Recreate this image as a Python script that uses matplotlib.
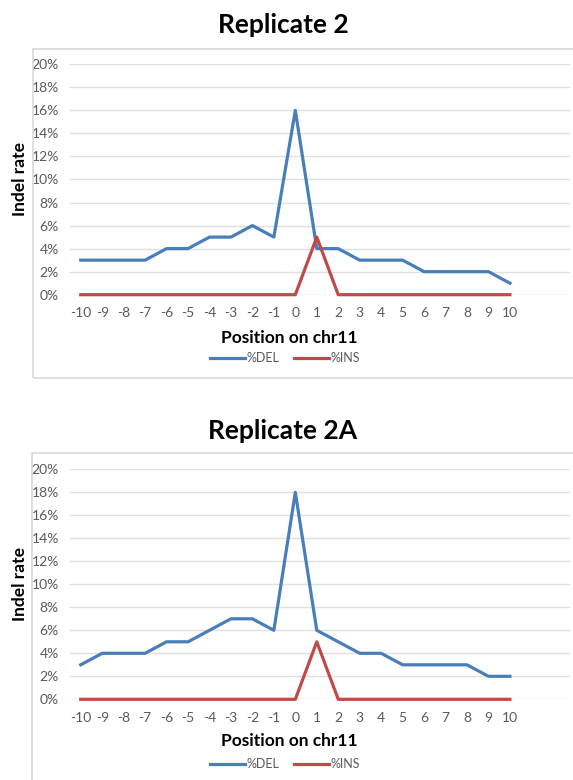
import matplotlib
matplotlib.use("Agg")
import matplotlib.pyplot as plt
from matplotlib.patches import Rectangle
from matplotlib.ticker import PercentFormatter

plt.rcParams["font.family"] = ["Lato", "DejaVu Sans"]
plt.rcParams["axes.unicode_minus"] = False

# Daten
positions = list(range(-10, 11))
del_rep2 = [3, 3, 3, 3, 4, 4, 5, 5, 6, 5, 16, 4, 4, 3, 3, 3, 2, 2, 2, 2, 1]
ins_rep2 = [0, 0, 0, 0, 0, 0, 0, 0, 0, 0, 0, 5, 0, 0, 0, 0, 0, 0, 0, 0, 0]
del_rep2a = [3, 4, 4, 4, 5, 5, 6, 7, 7, 6, 18, 6, 5, 4, 4, 3, 3, 3, 3, 2, 2]
ins_rep2a = [0, 0, 0, 0, 0, 0, 0, 0, 0, 0, 0, 5, 0, 0, 0, 0, 0, 0, 0, 0, 0]
titles = ["Replicate 2", "Replicate 2A"]

W, H = 573, 780
fig = plt.figure(figsize=(W / 100, H / 100), dpi=100)

BLUE = "#4a7ebb"
RED = "#be4b48"
GRAY = "#595959"
GRID = "#e0e0e0"


def px_rect(x0, y0, x1, y1):
    # Pixel -> Figurkoordinaten
    return [x0 / W, 1 - y1 / H, (x1 - x0) / W, (y1 - y0) / H]


def draw_chart(title, dele, ins, top0, top20, box_top, box_bottom, box_left, title_y, xlab_y, leg_y):
    # Rahmen des Diagramms
    fig.patches.append(Rectangle((box_left / W, 1 - box_bottom / H),
                                 (W + 20 - box_left) / W, (box_bottom - box_top) / H,
                                 transform=fig.transFigure, fill=False,
                                 edgecolor="#d9d9d9", linewidth=1.2))
    ax = fig.add_axes(px_rect(70, top20, 570, top0))
    ax.plot(positions, [v / 100 for v in dele], color=BLUE, lw=2.3, label="%DEL", clip_on=False)
    ax.plot(positions, [v / 100 for v in ins], color=RED, lw=2.3, label="%INS", clip_on=False)
    ax.set_xlim(-10.5, 12.8)
    ax.set_ylim(0, 0.2)
    ax.set_yticks([i / 100 for i in range(0, 21, 2)])
    ax.yaxis.set_major_formatter(PercentFormatter(1.0, decimals=0))
    ax.set_xticks(positions)
    ax.grid(axis="y", color=GRID, lw=1)
    ax.set_axisbelow(True)
    for s in ax.spines.values():
        s.set_visible(False)
    ax.tick_params(length=0, colors=GRAY, labelsize=10)
    ax.tick_params(axis="y", pad=8)
    ax.tick_params(axis="x", pad=9)

    fig.text(283 / W, 1 - title_y / H, title, ha="center", va="center",
             fontsize=19, fontweight="bold")
    fig.text(289 / W, 1 - xlab_y / H, "Position on chr11", ha="center", va="center",
             fontsize=12.5, fontweight="bold")
    fig.text(20 / W, 1 - (top20 + top0) / 2 / H, "Indel rate", ha="center", va="center",
             rotation=90, fontsize=12.5, fontweight="bold")
    ax.legend(loc="center", bbox_to_anchor=(285 / W, 1 - leg_y / H),
              bbox_transform=fig.transFigure, ncol=2, frameon=False,
              fontsize=9, labelcolor=GRAY, handlelength=2.8, handletextpad=0.1,
              columnspacing=1.2)
    return ax


draw_chart(titles[0], del_rep2, ins_rep2, 294.7, 64.3, 49.3, 377.7, 33, 25, 338, 358)
draw_chart(titles[1], del_rep2a, ins_rep2a, 699.3, 469.3, 452.7, 800, 32, 431, 741, 764)

fig.savefig("out.png", dpi=100, facecolor="white")
